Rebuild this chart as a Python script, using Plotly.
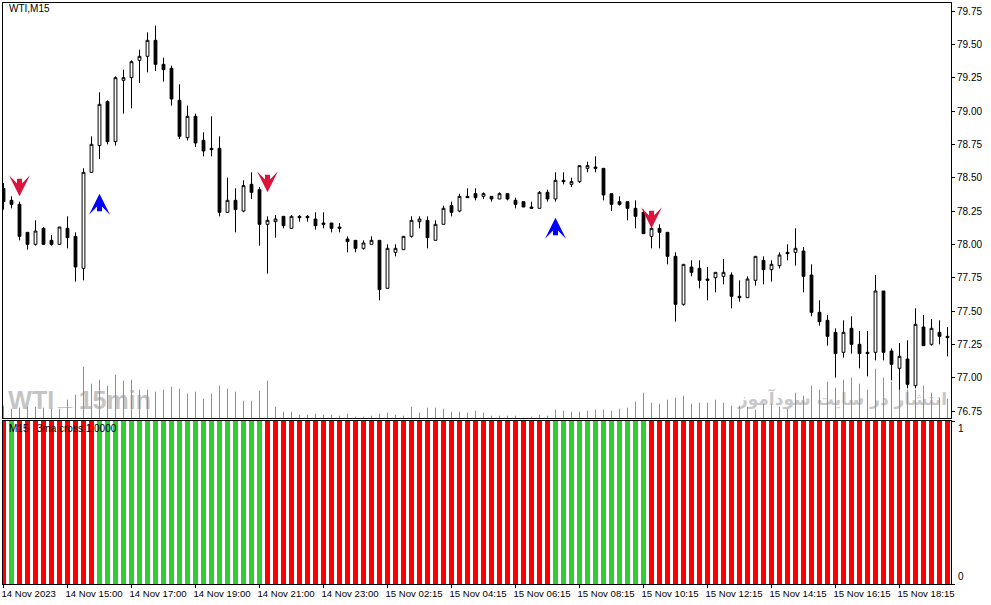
# -*- coding: utf-8 -*-
import plotly.graph_objs as go

# WTI M15 candles, prices
opens = [78.42,78.33,78.30,78.09,78.00,78.12,78.03,78.00,78.12,78.06,77.82,78.54,78.74,79.07,78.77,79.23,79.25,79.38,79.41,79.53,
         79.35,79.32,79.08,78.80,78.96,78.78,78.72,78.72,78.24,78.33,78.25,78.45,78.41,78.15,78.17,78.21,78.12,78.21,78.21,78.19,
         78.16,78.16,78.13,78.04,78.03,77.97,78.00,78.03,77.67,77.94,77.96,78.06,78.17,78.18,78.03,78.15,78.29,78.25,78.36,78.38,
         78.36,78.36,78.34,78.38,78.33,78.32,78.28,78.27,78.39,78.34,78.48,78.45,78.47,78.57,78.58,78.57,78.38,78.32,78.32,78.27,
         78.24,78.06,78.12,78.09,77.91,77.55,77.83,77.82,77.74,77.75,77.76,77.77,77.61,77.60,77.73,77.88,77.81,77.84,77.94,77.94,
         77.95,77.77,77.49,77.43,77.34,77.19,77.37,77.25,77.19,77.19,77.65,77.20,77.07,77.14,76.94,77.38,77.25,77.34,77.31]
highs = [78.46,78.36,78.32,78.09,78.18,78.13,78.07,78.13,78.21,78.09,78.57,78.81,79.14,79.08,79.26,79.31,79.38,79.46,79.59,79.64,
         79.40,79.34,79.20,79.04,78.98,78.84,78.96,78.81,78.50,78.42,78.48,78.54,78.43,78.21,78.22,78.21,78.22,78.22,78.22,78.24,
         78.24,78.16,78.16,78.06,78.03,78.03,78.06,78.03,78.00,78.00,78.06,78.21,78.21,78.21,78.18,78.29,78.32,78.38,78.42,78.42,
         78.39,78.36,78.39,78.38,78.35,78.32,78.32,78.40,78.41,78.54,78.54,78.50,78.59,78.62,78.66,78.57,78.38,78.36,78.32,78.33,
         78.26,78.15,78.15,78.09,77.94,77.85,77.88,77.88,77.83,77.79,77.89,77.79,77.73,77.76,77.91,77.91,77.88,77.94,78.00,78.12,
         77.98,77.85,77.58,77.47,77.37,77.43,77.46,77.35,77.35,77.77,77.65,77.22,77.26,77.28,77.52,77.47,77.44,77.43,77.38]
lows = [78.26,78.27,78.03,77.96,77.99,78.00,77.99,78.00,77.97,77.72,77.73,78.54,78.64,78.75,78.74,78.98,79.02,79.21,79.29,79.30,
        79.22,79.04,78.79,78.78,78.73,78.66,78.66,78.21,78.24,78.09,78.24,78.34,77.99,77.78,78.05,78.12,78.12,78.17,78.17,78.11,
        78.12,78.09,78.09,77.94,77.94,77.96,78.00,77.58,77.67,77.91,77.96,78.05,78.12,77.97,78.03,78.15,78.21,78.24,78.35,78.33,
        78.34,78.32,78.34,78.33,78.27,78.28,78.27,78.27,78.32,78.32,78.45,78.43,78.46,78.54,78.54,78.33,78.25,78.29,78.18,78.12,
        78.08,77.97,77.97,77.85,77.42,77.54,77.76,77.67,77.58,77.64,77.70,77.52,77.57,77.60,77.69,77.70,77.72,77.82,77.88,77.84,
        77.64,77.46,77.39,77.24,77.00,77.15,77.18,77.07,77.01,77.13,77.13,76.98,76.91,76.92,76.92,77.24,77.24,77.25,77.16]
closes = [78.32,78.30,78.06,78.00,78.10,78.00,78.00,78.13,78.05,77.83,78.54,78.75,79.05,78.77,79.25,79.25,79.37,79.41,79.53,79.35,
          79.31,79.09,78.81,78.96,78.76,78.70,78.71,78.24,78.33,78.26,78.44,78.39,78.15,78.18,78.19,78.14,78.21,78.20,78.20,78.14,
          78.15,78.12,78.12,78.02,77.97,78.01,78.03,77.66,77.97,77.97,78.06,78.18,78.19,78.05,78.15,78.27,78.24,78.36,78.35,78.35,
          78.38,78.34,78.38,78.34,78.30,78.28,78.27,78.39,78.34,78.48,78.47,78.47,78.59,78.59,78.57,78.37,78.30,78.30,78.27,78.21,
          78.08,78.12,78.09,77.91,77.55,77.85,77.79,77.73,77.73,77.79,77.79,77.61,77.60,77.74,77.91,77.81,77.85,77.92,77.93,77.97,
          77.76,77.49,77.42,77.31,77.18,77.34,77.25,77.18,77.18,77.65,77.19,77.10,77.16,76.95,77.40,77.24,77.37,77.31,77.30]

# tick volume, same order as the candles
volumes = [12,9,10,11,11,10,9,9,18,23,51,34,38,32,43,37,38,28,28,26,
           28,31,29,24,26,19,24,32,29,26,17,17,27,37,11,6,6,3,3,4,
           3,3,2,4,1,1,2,4,5,3,2,11,5,10,10,9,6,6,5,7,
           5,2,2,2,2,0,1,3,2,8,7,6,6,7,8,8,7,9,10,16,
           25,15,14,18,20,22,14,15,15,18,15,12,12,11,8,14,14,11,9,25,
           22,32,28,36,30,38,40,34,28,49,40,36,30,28,28,32,25,20,19]

# 3ma cross signal: 1 = green, 0 = red
signal = [0,1,0,0,0,0,0,0,0,0,0,0,1,1,1,1,1,1,1,1,
          1,1,1,1,1,1,1,1,1,1,1,1,1,0,0,0,0,0,0,0,
          0,0,0,0,0,0,0,0,0,0,0,0,0,0,0,0,0,0,0,0,
          0,0,0,0,0,0,0,0,0,1,1,1,1,1,1,1,1,1,1,1,
          1,0,0,0,0,0,0,0,0,0,0,0,0,0,0,0,0,0,0,0,
          0,0,0,0,0,0,0,0,0,0,0,0,0,0,0,0,0,0,0]

bars = list(range(len(opens)))

time_ticks = [0,8,16,24,32,40,48,56,64,72,80,88,96,104,112]
time_labels = ["14 Nov 2023","14 Nov 15:00","14 Nov 17:00","14 Nov 19:00","14 Nov 21:00",
               "14 Nov 23:00","15 Nov 02:15","15 Nov 04:15","15 Nov 06:15","15 Nov 08:15",
               "15 Nov 10:15","15 Nov 12:15","15 Nov 14:15","15 Nov 16:15","15 Nov 18:15"]
price_ticks = [79.75,79.50,79.25,79.00,78.75,78.50,78.25,78.00,77.75,77.50,77.25,77.00,76.75]

sell_bars = [2,33,81]
sell_tips = [78.36,78.39,78.12]
buy_bars = [12,69]
buy_tips = [78.38,78.20]

FONT = "Liberation Sans"
GREY = "#c4c4c4"
VOL_GREEN = "#32cd32"

fig = go.Figure()

# watermark goes first so that it ends up under everything else
fig.add_trace(go.Scatter(x=[0.6,6.8,9.4], y=[76.81,76.84,76.81], mode="text", text=["WTI","_","15min"],
                         textposition="middle right", hoverinfo="skip", yaxis="y",
                         textfont=dict(family=FONT, size=25, color=GREY, weight="bold")))
fig.add_trace(go.Scatter(x=[91.8], y=[76.83], mode="text", text=["انتشار در سایت سودآموز"],
                         textposition="middle right", hoverinfo="skip", yaxis="y",
                         textfont=dict(family="DejaVu Sans", size=17, color="#c8c8c8", weight="bold")))

# volumes as 1px stems hanging from each value down to zero
fig.add_trace(go.Scatter(x=bars, y=volumes, mode="markers", yaxis="y2", hoverinfo="skip",
                         marker=dict(size=1, color=VOL_GREEN),
                         error_y=dict(type="data", symmetric=False, array=[0 for v in volumes], arrayminus=volumes,
                                      thickness=1, width=0, color=VOL_GREEN)))

fig.add_trace(go.Candlestick(x=bars, open=opens, high=highs, low=lows, close=closes, yaxis="y3",
                             whiskerwidth=0,
                             increasing=dict(fillcolor="white", line=dict(color="black", width=1)),
                             decreasing=dict(fillcolor="black", line=dict(color="black", width=1))))

fig.add_trace(go.Bar(x=bars, y=[1 for b in bars], width=0.625, xaxis="x2", yaxis="y4",
                     marker=dict(color=["#32cd32" if s else "#ff0000" for s in signal], line_width=0)))

notes = []
for b, tip in zip(sell_bars, sell_tips):
    notes.append(dict(x=b, y=tip, xref="x", yref="y3", ax=0, ay=-19, text="", showarrow=True,
                      arrowhead=3, arrowsize=0.7, arrowwidth=5, arrowcolor="#dc143c"))
for b, tip in zip(buy_bars, buy_tips):
    notes.append(dict(x=b, y=tip, xref="x", yref="y3", ax=0, ay=19, text="", showarrow=True,
                      arrowhead=3, arrowsize=0.7, arrowwidth=5, arrowcolor="#0000ff"))

label_font = dict(family=FONT, size=10, color="black")
notes.append(dict(text="WTI,M15", xref="paper", yref="paper", x=0.0042, y=0.9897, xanchor="left",
                  yanchor="middle", showarrow=False, font=label_font))
notes.append(dict(text="M15   3ma cross 1.0000", xref="paper", yref="paper", x=0.0042, y=0.2668, xanchor="left",
                  yanchor="middle", showarrow=False, font=label_font))
notes.append(dict(text="1", xref="paper", yref="y4", x=1.0053, y=1, xanchor="left", yanchor="top",
                  showarrow=False, font=label_font))
notes.append(dict(text="0", xref="paper", yref="y4", x=1.0053, y=0, xanchor="left", yanchor="bottom",
                  showarrow=False, font=label_font))

frame = dict(showline=True, linecolor="black", linewidth=1, mirror=True, showgrid=False, zeroline=False)

fig.update_layout(
    width=991, height=605,
    margin=dict(l=3, r=40, t=3, b=21),
    paper_bgcolor="white", plot_bgcolor="white",
    showlegend=False, barmode="overlay",
    boxgap=0.5,
    font=label_font,
    annotations=notes,
    xaxis=dict(frame, range=[-0.0625,118.4375], domain=[0,1], anchor="y3", showticklabels=False, ticks="",
               rangeslider=dict(visible=False)),
    xaxis2=dict(frame, matches="x", domain=[0,1], anchor="y4", tickmode="array", tickvals=time_ticks,
                ticktext=time_labels, ticks="outside", ticklen=3, tickcolor="black", tickangle=0,
                tickfont=dict(family=FONT, size=9.6, color="black"),
                automargin=False, ticklabelposition="outside right", ticklabelshift=-3),
    yaxis=dict(visible=False, domain=[0.28571,1], range=[76.6975,79.81]),
    yaxis2=dict(visible=False, overlaying="y", range=[0,415]),
    yaxis3=dict(frame, overlaying="y", side="right", range=[76.6975,79.81], tickmode="array", automargin=False,
                tickvals=price_ticks, tickformat=".2f", ticks="outside", ticklen=3, tickcolor="black"),
    yaxis4=dict(frame, domain=[0,0.28055], range=[0,1], side="right", tickmode="array", tickvals=[0,1],
                ticktext=["",""], ticks="outside", ticklen=3, tickcolor="black", automargin=False),
)

fig.write_html("out.html", config={"displayModeBar": False}, post_script="document.body.style.margin='0';")
